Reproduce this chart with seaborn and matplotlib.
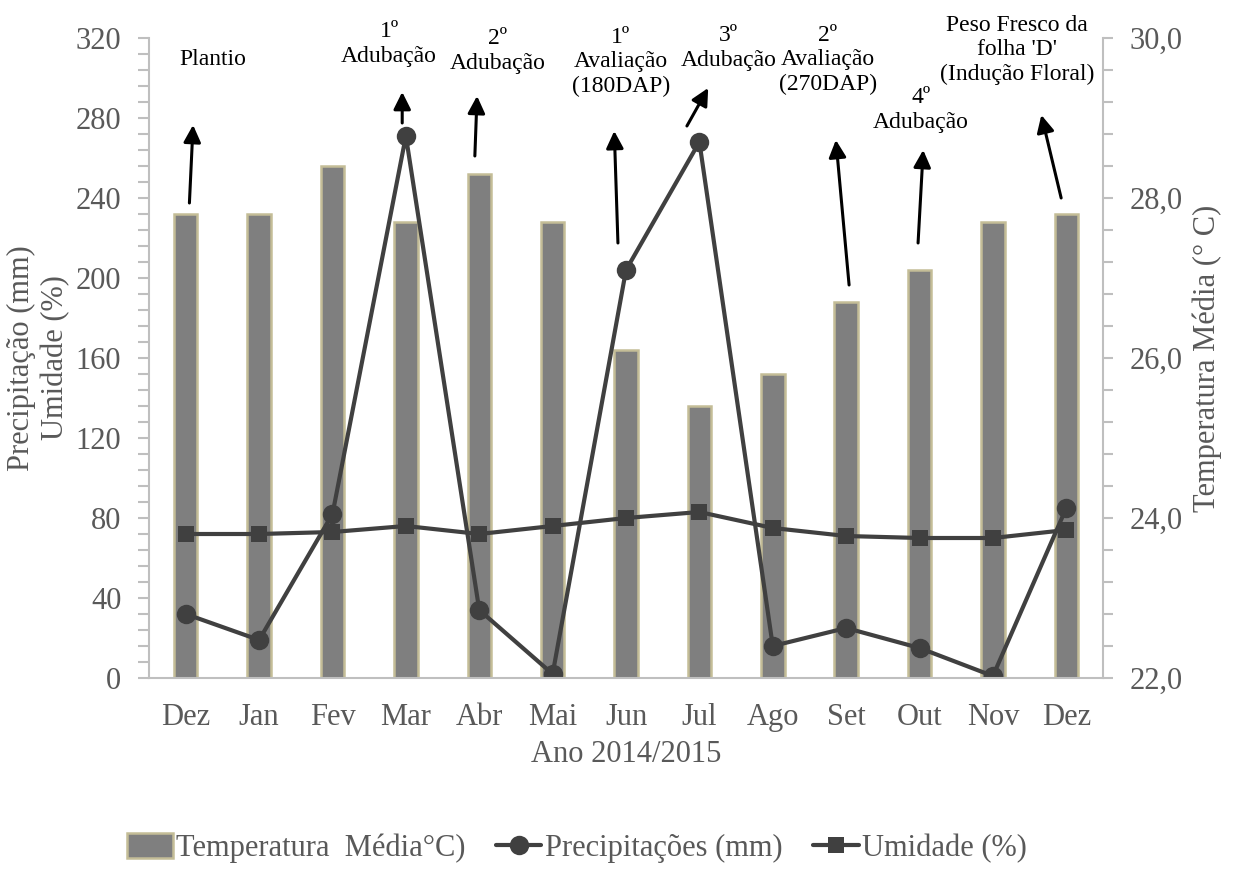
import matplotlib
matplotlib.use('Agg')
import matplotlib.pyplot as plt
import matplotlib.ticker as mticker
from matplotlib.patches import Patch
from matplotlib.lines import Line2D
import seaborn as sns
import pandas as pd
import numpy as np

# valores (Dez/2014 a Dez/2015)
meses = ['Dez', 'Jan', 'Fev', 'Mar', 'Abr', 'Mai', 'Jun', 'Jul', 'Ago', 'Set', 'Out', 'Nov', 'Dez']
temperatura = [27.8, 27.8, 28.4, 27.7, 28.3, 27.7, 26.1, 25.4, 25.8, 26.7, 27.1, 27.7, 27.8]
precipitacao = [32, 19, 82, 271, 34, 2, 204, 268, 16, 25, 15, 1, 85]
umidade = [72, 72, 73, 76, 72, 76, 80, 83, 75, 71, 70, 70, 74]

# eventos do manejo
eventos = ['Plantio', '1º\nAdubação', '2º\nAdubação', '1º\nAvaliação\n(180DAP)', '3º\nAdubação',
           '2º\nAvaliação\n(270DAP)', '4º\nAdubação', "Peso Fresco da\nfolha 'D'\n(Indução Floral)"]
texto_pos = [(0.37, 309), (2.77, 317), (4.25, 313.5), (5.93, 308), (7.40, 315),
             (8.75, 309), (10.02, 284), (11.33, 314)]
seta_base = [(0.05, 237.5), (2.95, 277.5), (3.94, 261), (5.89, 217.5), (6.83, 276),
             (9.04, 196.5), (9.98, 217.5), (11.93, 240)]
seta_ponta = [(0.10, 276.5), (2.95, 293), (3.97, 291), (5.84, 273.5), (7.12, 295),
              (8.86, 269), (10.05, 264), (11.66, 281.5)]

df = pd.DataFrame({'pos': range(len(meses)), 'mes': meses, 'temp': temperatura,
                   'prec': precipitacao, 'umid': umidade})

sns.set_style('white')
plt.rcParams['font.family'] = ['Liberation Serif', 'DejaVu Serif']
fonte = 'Liberation Serif'

cinza_eixo = '#bfbfbf'
cinza_txt = '#595959'
cinza_linha = '#404040'

fig = plt.figure(figsize=(12.4, 8.77), dpi=100)
ax = fig.add_axes([0.1202, 0.2269, 0.7693, 0.7298])
ax2 = ax.twinx()

sns.barplot(data=df, x='pos', y='temp', ax=ax2, color='#7f7f7f', saturation=1,
            width=0.32, edgecolor='#c4bd97', linewidth=1.8)
sns.lineplot(data=df, x='pos', y='prec', ax=ax, color=cinza_linha, marker='o',
             markersize=14, linewidth=3, markeredgewidth=0)
sns.lineplot(data=df, x='pos', y='umid', ax=ax, color=cinza_linha, marker='s',
             markersize=12, linewidth=3, markeredgewidth=0)

ax.set_zorder(ax2.get_zorder() + 1)
ax.patch.set_visible(False)

ax.set_xlim(-0.5, 12.5)
ax.set_ylim(0, 320)
ax2.set_ylim(22, 30)

ax.set_xticks(range(len(meses)))
ax.set_xticklabels(meses)
ax.xaxis.set_minor_locator(mticker.FixedLocator(np.arange(-0.5, 13, 1)))
ax.set_yticks(range(0, 321, 40))
ax.yaxis.set_minor_locator(mticker.MultipleLocator(8))
ax2.set_yticks(range(22, 31, 2))
ax2.yaxis.set_minor_locator(mticker.MultipleLocator(0.4))
ax2.yaxis.set_major_formatter(mticker.FuncFormatter(lambda v, p: f'{v:.1f}'.replace('.', ',')))

ax.tick_params(axis='y', which='both', direction='out', length=8, width=1.5, color=cinza_eixo,
               labelsize=22, labelcolor=cinza_txt, pad=12)
ax.tick_params(axis='x', which='major', direction='out', length=6, width=1.5, color=cinza_eixo,
               labelsize=22, labelcolor=cinza_txt, pad=12)
ax.tick_params(axis='x', which='minor', direction='out', length=9, width=1.5, color=cinza_eixo)
ax2.tick_params(axis='y', which='both', direction='out', length=7, width=1.5, color=cinza_eixo,
                labelsize=22, labelcolor=cinza_txt, pad=12)

for s in ['top', 'right']:
    ax.spines[s].set_visible(False)
for s in ['top', 'left', 'bottom']:
    ax2.spines[s].set_visible(False)
for a, s in [(ax, 'left'), (ax, 'bottom'), (ax2, 'right')]:
    a.spines[s].set_color(cinza_eixo)
    a.spines[s].set_linewidth(1.5)

ax.set_xlabel('Ano 2014/2015', fontsize=22, color=cinza_txt, labelpad=6, fontfamily=fonte)
ax.set_ylabel('Precipitação (mm)\nUmidade (%)', fontsize=22, color=cinza_txt, labelpad=4,
              fontfamily=fonte)
ax2.set_ylabel('Temperatura Média (° C)', fontsize=22, color=cinza_txt, labelpad=7,
               fontfamily=fonte)
ax2.set_xlabel('')

for txt, (tx, ty), base, ponta in zip(eventos, texto_pos, seta_base, seta_ponta):
    ax.text(tx, ty, txt, ha='center', va='center', fontsize=17, color='black', linespacing=1.2,
            fontfamily=fonte)
    ax.annotate('', xy=ponta, xytext=base, annotation_clip=False,
                arrowprops=dict(arrowstyle='-|>', color='black', lw=2.2, mutation_scale=26,
                                shrinkA=0, shrinkB=0))

handles = [
    Patch(facecolor='#7f7f7f', edgecolor='#c4bd97', linewidth=1.8),
    Line2D([], [], color=cinza_linha, marker='o', markersize=14, linewidth=3, markeredgewidth=0),
    Line2D([], [], color=cinza_linha, marker='s', markersize=12, linewidth=3, markeredgewidth=0),
]
rotulos = ['Temperatura  Média°C)', 'Precipitações (mm)', 'Umidade (%)']
leg = fig.legend(handles, rotulos, loc='center', bbox_to_anchor=(0.465, 1 - 848 / 877), ncol=3,
                 frameon=False, prop={'family': fonte, 'size': 22}, handlelength=1.5,
                 handletextpad=0.1, columnspacing=1.0, handleheight=0.9)
for t in leg.get_texts():
    t.set_color(cinza_txt)

fig.savefig('out.png', dpi=100)
